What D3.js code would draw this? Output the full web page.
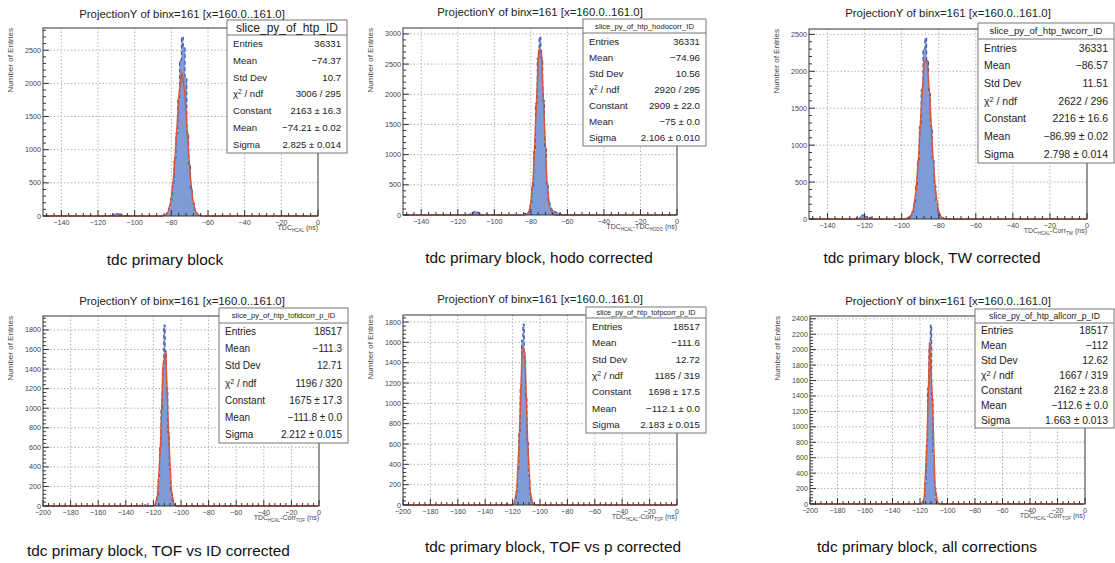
<!DOCTYPE html>
<html>
<head>
<meta charset="utf-8">
<script src="https://cdn.jsdelivr.net/npm/d3@7"></script>
<style>
  body { margin: 0; background: #fff; }
  svg { display: block; font-family: "Liberation Sans", Arial, sans-serif; }
</style>
</head>
<body>
<svg width="1115" height="563"></svg>
<script>
// six ROOT slices

const plotTitle = "ProjectionY of binx=161 [x=160.0..161.0]";
const statNames = ["slice_py_of_htp_ID", "slice_py_of_htp_hodocorr_ID", "slice_py_of_htp_twcorr_ID",
                   "slice_py_of_htp_tofidcorr_p_ID", "slice_py_of_htp_tofpcorr_p_ID", "slice_py_of_htp_allcorr_p_ID"];
const captions = ["tdc primary block", "tdc primary block, hodo corrected", "tdc primary block, TW corrected",
                  "tdc primary block, TOF vs ID corrected", "tdc primary block, TOF vs p corrected", "tdc primary block, all corrections"];
// x axis titles, [text, subscript?]
const xTitles = [
  [["TDC", 0], ["HCAL", 1], [" (ns)", 0]],
  [["TDC", 0], ["HCAL", 1], ["-TDC", 0], ["HODO", 1], [" (ns)", 0]],
  [["TDC", 0], ["HCAL", 1], ["-Corr", 0], ["TW", 1], [" (ns)", 0]],
  [["TDC", 0], ["HCAL", 1], ["-Corr", 0], ["TOF", 1], [" (ns)", 0]],
  [["TDC", 0], ["HCAL", 1], ["-Corr", 0], ["TOF", 1], [" (ns)", 0]],
  [["TDC", 0], ["HCAL", 1], ["-Corr", 0], ["TOF", 1], [" (ns)", 0]]
];
const xDomains = [[-150, 0], [-150, 0], [-150, 0], [-200, 0], [-200, 0], [-200, 0]];
const yTickStep = [500, 500, 500, 200, 200, 200];

// stats box numbers
const entries = [36331, 36331, 36331, 18517, 18517, 18517];
const histMean = [-74.37, -74.96, -86.57, -111.3, -111.6, -112];
const stdDev = ["10.7", "10.56", "11.51", "12.71", "12.72", "12.62"];
const chi2 = [3006, 2920, 2622, 1196, 1185, 1667];
const ndf = [295, 295, 296, 320, 319, 319];
const fitConst = [2163, 2909, 2216, 1675, 1698, 2162];
const fitConstErr = ["16.3", "22.0", "16.6", "17.3", "17.5", "23.8"];
const fitMean = [-74.21, -75, -86.99, -111.8, -112.1, -112.6];
const fitMeanErr = ["0.02", "0.0", "0.02", "0.0", "0.0", "0.0"];
const fitSigma = [2.825, 2.106, 2.798, 2.212, 2.183, 1.663];
const fitSigmaErr = ["0.014", "0.010", "0.014", "0.015", "0.015", "0.013"];

// histogram contents, 1 ns bins; first bin centre then counts
const peakStart = [-84, -84, -97, -120, -120, -119];
const peakCounts = [
  [15, 25, 50, 120, 260, 500, 870, 1250, 1750, 2350, 2700, 2550, 2080, 1250, 780, 400, 200, 90, 40, 20, 10],
  [15, 25, 20, 50, 170, 480, 1050, 1850, 2600, 2950, 2600, 1900, 1100, 520, 230, 120, 80, 60, 45, 30, 20, 12],
  [15, 25, 45, 100, 230, 450, 800, 1250, 1750, 2300, 2450, 2150, 1700, 1250, 800, 450, 220, 95, 40, 20, 10],
  [8, 12, 33, 105, 275, 590, 1000, 1400, 1850, 1580, 1200, 750, 380, 160, 55, 15, 8],
  [6, 12, 44, 136, 340, 700, 1160, 1620, 1780, 1450, 1070, 620, 290, 110, 35, 10],
  [5, 12, 65, 270, 760, 1500, 2050, 2320, 1360, 630, 210, 50, 15, 6]
];
// small side bumps, [centre, count]
const tails = [
  [[-113, 15], [-111, 30], [-110, 40], [-109, 30], [-107, 25], [-104, 15]],
  [[-113, 20], [-112, 40], [-111, 55], [-110, 60], [-109, 45], [-108, 25], [-104, 15]],
  [[-124, 20], [-122, 40], [-121, 55], [-120, 50], [-119, 35], [-117, 20]],
  [[-130, 10], [-126, 12]],
  [[-128, 10], [-124, 14]],
  [[-130, 8], [-122, 10]]
];

// page layout of each panel (px)
const frames = [
  {l: 43, r: 318, t: 28, b: 216},
  {l: 403, r: 677, t: 28, b: 215},
  {l: 809, r: 1087, t: 29, b: 219},
  {l: 43, r: 319, t: 316, b: 506},
  {l: 403, r: 677, t: 315, b: 505},
  {l: 810, r: 1085, t: 316, b: 504}
];
const titlePos = [[182, 17.5], [540, 15.5], [948, 17], [182, 305], [540, 302.5], [948, 305]];
const capPos = [[165, 265, "middle"], [539, 263, "middle"], [932, 263, "middle"],
                [27, 556, "start"], [553, 552, "middle"], [927, 552, "middle"]];
const boxes = [
  {x0: 227, x1: 347, y0: 20, yT: 35, y1: 153, tf: 12, rf: 9.6},
  {x0: 583, x1: 706, y0: 19, yT: 33, y1: 146, tf: 7.6, rf: 9.7},
  {x0: 978, x1: 1114, y0: 23, yT: 39, y1: 163, tf: 9.6, rf: 10.5},
  {x0: 219, x1: 348, y0: 308, yT: 323, y1: 443, tf: 7.5, rf: 10},
  {x0: 586, x1: 706, y0: 307, yT: 318, y1: 433, tf: 7.3, rf: 9.8},
  {x0: 975, x1: 1114, y0: 309, yT: 323, y1: 428, tf: 8.6, rf: 10.3}
];

const svg = d3.select("svg");
svg.append("rect").attr("width", 1115).attr("height", 563).attr("fill", "#fff");

const num = v => String(v).replace("-", "\u2212");

function drawPanel(i) {
  const f = frames[i], dom = xDomains[i];
  const g = svg.append("g");

  // bins
  const m = new Map();
  peakCounts[i].forEach((c, k) => m.set(peakStart[i] + k, c));
  tails[i].forEach(([c, n]) => m.set(c, n));
  const keys = Array.from(m.keys());
  const bins = d3.range(d3.min(keys), d3.max(keys) + 1).map(c => ({x0: c - 0.5, x1: c + 0.5, n: m.get(c) || 0}));
  const yMax = 1.05 * d3.max(bins, d => d.n);

  const x = d3.scaleLinear().domain(dom).range([f.l, f.r]);
  const y = d3.scaleLinear().domain([0, yMax]).range([f.b, f.t]);

  const xMajor = d3.range(Math.ceil(dom[0] / 20) * 20, dom[1] + 1, 20);
  const xMinor = d3.range(Math.ceil(dom[0] / 4) * 4, dom[1] + 1, 4);
  const yMajor = d3.range(0, yMax, yTickStep[i]);
  const yMinor = d3.range(0, yMax, yTickStep[i] / 5);

  // grid
  g.append("g").selectAll("line").data(xMajor.filter(v => v > dom[0] && v < dom[1])).join("line")
    .attr("x1", d => x(d)).attr("x2", d => x(d)).attr("y1", f.t).attr("y2", f.b)
    .attr("stroke", "#b4b4b4").attr("stroke-dasharray", "1.5,2");
  g.append("g").selectAll("line").data(yMajor.filter(v => v > 0)).join("line")
    .attr("x1", f.l).attr("x2", f.r).attr("y1", d => y(d)).attr("y2", d => y(d))
    .attr("stroke", "#b4b4b4").attr("stroke-dasharray", "1.5,2");

  // histogram
  const pts = [[dom[0], 0], [bins[0].x0, 0]];
  bins.forEach(b => { pts.push([b.x0, b.n]); pts.push([b.x1, b.n]); });
  pts.push([bins[bins.length - 1].x1, 0], [dom[1], 0]);

  g.append("path").datum(pts)
    .attr("d", d3.area().x(d => x(d[0])).y0(y(0)).y1(d => y(d[1])))
    .attr("fill", "#7d9bd6");
  g.append("path").datum(pts)
    .attr("d", d3.line().x(d => x(d[0])).y(d => y(d[1])))
    .attr("fill", "none").attr("stroke", "#283c9c").attr("stroke-width", 0.9)
    .attr("stroke-dasharray", "4,2.5");

  // gaussian fit, drawn like TF1 with 100 points
  const C = fitConst[i], mu = fitMean[i], s = fitSigma[i];
  const fx = d3.range(100).map(k => dom[0] + (k + 0.5) * (dom[1] - dom[0]) / 100);
  g.append("path").datum(fx)
    .attr("d", d3.line().x(d => x(d)).y(d => y(C * Math.exp(-0.5 * ((d - mu) / s) ** 2))))
    .attr("fill", "none").attr("stroke", "#dc5433").attr("stroke-width", 1.4);

  // frame + ticks
  g.append("rect").attr("x", f.l).attr("y", f.t).attr("width", f.r - f.l).attr("height", f.b - f.t)
    .attr("fill", "none").attr("stroke", "#333").attr("stroke-width", 1);

  g.append("g").selectAll("line").data(xMinor).join("line")
    .attr("x1", d => x(d)).attr("x2", d => x(d))
    .attr("y1", f.b).attr("y2", d => f.b - (d % 20 === 0 ? 6 : 3))
    .attr("stroke", "#333");
  g.append("g").selectAll("line").data(yMinor).join("line")
    .attr("y1", d => y(d)).attr("y2", d => y(d))
    .attr("x1", f.l).attr("x2", d => f.l + (d % yTickStep[i] === 0 ? 6 : 3))
    .attr("stroke", "#333");

  g.append("g").selectAll("text").data(xMajor).join("text")
    .attr("x", d => x(d)).attr("y", f.b + 8.5)
    .attr("text-anchor", "middle").attr("font-size", 7.2).attr("fill", "#444")
    .text(d => num(d));
  g.append("g").selectAll("text").data(yMajor).join("text")
    .attr("x", f.l - 2).attr("y", d => y(d)).attr("dy", "0.35em")
    .attr("text-anchor", "end").attr("font-size", 7.2).attr("fill", "#444")
    .text(d => d);

  // axis titles
  const xt = g.append("text").attr("x", f.r).attr("y", f.b + 14)
    .attr("text-anchor", "end").attr("font-size", 7).attr("fill", "#444");
  let down = false;
  xTitles[i].forEach(([t, sub]) => {
    const ts = xt.append("tspan").text(t);
    if (sub && !down) { ts.attr("dy", 2).attr("font-size", 4.5); down = true; }
    else if (sub) ts.attr("font-size", 4.5);
    else if (down) { ts.attr("dy", -2); down = false; }
  });

  g.append("text")
    .attr("transform", `translate(${f.l - 30},${f.t}) rotate(-90)`)
    .attr("text-anchor", "end").attr("font-size", 8).attr("fill", "#444")
    .text("Number of Entries");

  // plot title
  g.append("text").attr("x", titlePos[i][0]).attr("y", titlePos[i][1])
    .attr("text-anchor", "middle").attr("font-size", 11.4).attr("fill", "#222")
    .text(plotTitle);

  // stats box
  const bx = boxes[i];
  g.append("rect").attr("x", bx.x0).attr("y", bx.y0).attr("width", bx.x1 - bx.x0).attr("height", bx.y1 - bx.y0)
    .attr("fill", "#fff").attr("stroke", "#777");
  g.append("line").attr("x1", bx.x0).attr("x2", bx.x1).attr("y1", bx.yT).attr("y2", bx.yT).attr("stroke", "#777");
  g.append("text").attr("x", (bx.x0 + bx.x1) / 2).attr("y", (bx.y0 + bx.yT) / 2).attr("dy", "0.36em")
    .attr("text-anchor", "middle").attr("font-size", bx.tf).attr("fill", "#222")
    .text(statNames[i]);

  const rows = [
    ["Entries", entries[i]],
    ["Mean", num(histMean[i])],
    ["Std Dev", stdDev[i]],
    ["chi", chi2[i] + " / " + ndf[i]],
    ["Constant", fitConst[i] + " \u00b1 " + fitConstErr[i]],
    ["Mean", num(fitMean[i]) + " \u00b1 " + fitMeanErr[i]],
    ["Sigma", fitSigma[i] + " \u00b1 " + fitSigmaErr[i]]
  ];
  const rh = (bx.y1 - bx.yT) / rows.length;
  rows.forEach((r, k) => {
    const cy = bx.yT + rh * (k + 0.5);
    const lab = g.append("text").attr("x", bx.x0 + 6).attr("y", cy).attr("dy", "0.36em")
      .attr("font-size", bx.rf).attr("fill", "#222");
    if (r[0] === "chi") {
      lab.append("tspan").text("\u03c7");
      lab.append("tspan").attr("dy", -3).attr("font-size", bx.rf * 0.7).text("2");
      lab.append("tspan").attr("dy", 3).text(" / ndf");
    } else lab.text(r[0]);
    g.append("text").attr("x", bx.x1 - 6).attr("y", cy).attr("dy", "0.36em")
      .attr("text-anchor", "end").attr("font-size", bx.rf).attr("fill", "#222")
      .text(r[1]);
  });

  // caption under the slide image
  g.append("text").attr("x", capPos[i][0]).attr("y", capPos[i][1])
    .attr("text-anchor", capPos[i][2]).attr("font-size", 15.4).attr("fill", "#111")
    .text(captions[i]);
}

d3.range(6).forEach(drawPanel);
</script>
</body>
</html>
